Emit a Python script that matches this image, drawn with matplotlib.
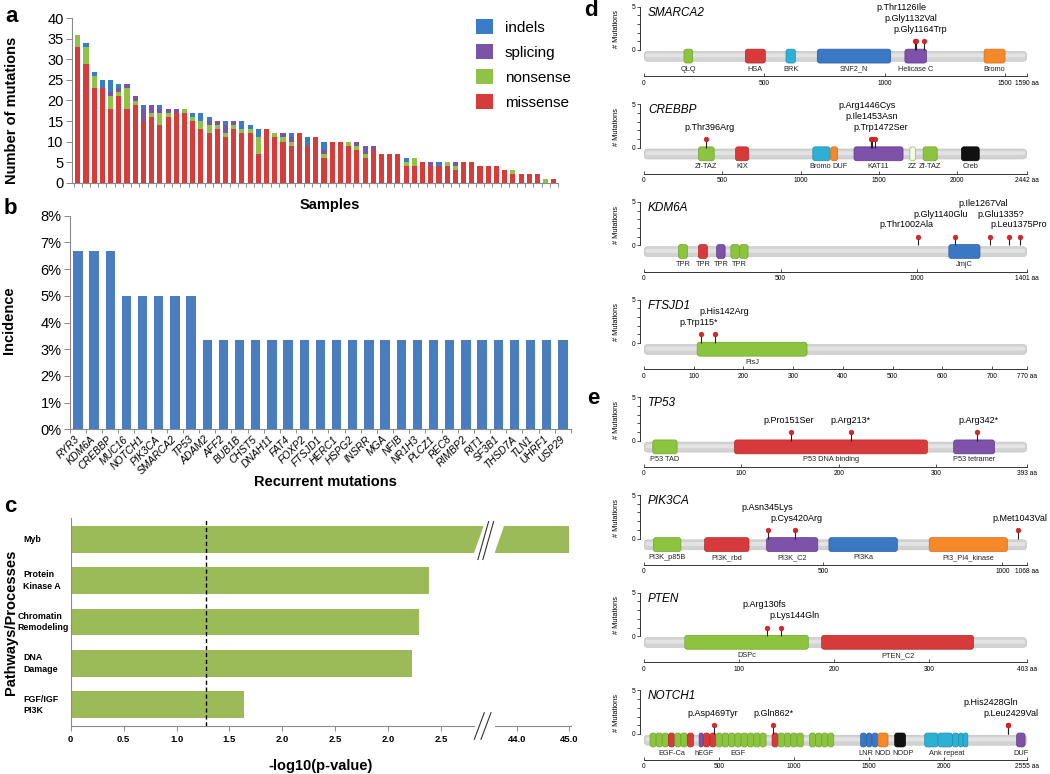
import numpy as np
import matplotlib
matplotlib.use('Agg')
import matplotlib.pyplot as plt
from matplotlib.patches import FancyBboxPatch, Patch, Polygon
from matplotlib.lines import Line2D
from matplotlib.ticker import PercentFormatter
from matplotlib.transforms import blended_transform_factory

plt.rcParams['font.family'] = ['Liberation Sans', 'DejaVu Sans']

# ======================= DATA =======================
# --- panel a: mutations per sample ---
sample_missense = [33, 29, 23, 23, 18, 21, 18, 19, 15, 16, 14, 16, 17, 17, 15, 13, 12, 13, 11, 13,
                   12, 12, 7, 13, 11, 10, 9, 12, 9, 11, 6, 10, 10, 9, 8, 6, 8, 7, 7, 7,
                   4, 4, 5, 4, 4, 4, 3, 5, 5, 4, 4, 4, 3, 2, 2, 2, 2, 0, 1]
sample_nonsense = [3, 4, 3, 0, 3, 1, 5, 1, 0, 1, 3, 1, 0, 1, 1, 2, 2, 1, 1, 1,
                   1, 1, 4, 0, 1, 1, 1, 0, 0, 0, 1, 0, 0, 1, 1, 1, 0, 0, 0, 0,
                   1, 2, 0, 0, 0, 1, 1, 0, 0, 0, 0, 0, 0, 1, 0, 0, 0, 1, 0]
sample_splicing = [0, 0, 0, 0, 1, 1, 1, 1, 3, 2, 1, 1, 1, 0, 0, 0, 1, 1, 2, 1,
                   0, 0, 0, 0, 0, 1, 1, 0, 0, 0, 1, 0, 0, 0, 1, 2, 1, 0, 0, 0,
                   0, 0, 0, 1, 0, 0, 1, 0, 0, 0, 0, 0, 0, 0, 0, 0, 0, 0, 0]
sample_indels = [0, 1, 1, 2, 3, 1, 0, 0, 1, 0, 1, 0, 0, 0, 1, 2, 1, 0, 1, 0,
                 2, 1, 2, 0, 0, 0, 1, 0, 2, 0, 2, 0, 0, 0, 0, 0, 0, 0, 0, 0,
                 1, 0, 0, 0, 1, 0, 0, 0, 0, 0, 0, 0, 0, 0, 0, 0, 0, 0, 0]
mutation_types = ['indels', 'splicing', 'nonsense', 'missense']

# --- panel b: recurrent mutations ---
recurrent_genes = ['RYR3', 'KDM6A', 'CREBBP', 'MUC16', 'NOTCH1', 'PIK3CA', 'SMARCA2', 'TP53',
                   'ADAM2', 'AFF2', 'BUB1B', 'CHST5', 'DNAH11', 'FAT4', 'FOXP2', 'FTSJD1',
                   'HERC1', 'HSPG2', 'INSRR', 'MGA', 'NFIB', 'NR1H3', 'PLCZ1', 'REC8',
                   'RIMBP2', 'RIT1', 'SF3B1', 'THSD7A', 'TLN1', 'UHRF1', 'USP29']
incidence_pct = [6.67, 6.67, 6.67, 5.0, 5.0, 5.0, 5.0, 5.0,
                 3.33, 3.33, 3.33, 3.33, 3.33, 3.33, 3.33, 3.33,
                 3.33, 3.33, 3.33, 3.33, 3.33, 3.33, 3.33, 3.33,
                 3.33, 3.33, 3.33, 3.33, 3.33, 3.33, 3.33]

# --- panel c: pathways ---
pathways = ['Myb', 'Protein\nKinase A', 'Chromatin\nRemodeling', 'DNA\nDamage', 'FGF/IGF\nPI3K']
pathway_neglogp = [45.0, 3.39, 3.29, 3.23, 1.64]
significance_line = 1.28
c_left_ticks = [0, 0.5, 1.0, 1.5, 2.0, 2.5, 3.0, 3.5]
c_left_ticklabels = ['0', '0.5', '1.0', '1.5', '2.0', '2.5', '2.0', '2.5']
c_right_ticks = [44.0, 45.0]
c_right_ticklabels = ['44.0', '45.0']

# --- panels d/e: protein domain maps: (start, end, colour, label group) ---
smarca2_domains = [(166, 202, 'green', 'QLQ'), (421, 504, 'red', 'HSA'), (590, 629, 'cyan', 'BRK'),
                   (720, 1025, 'blue', 'SNF2_N'), (1084, 1174, 'purple', 'Helicase C'),
                   (1413, 1500, 'orange', 'Bromo')]
smarca2_mutations = [(1126, 1, 'p.Thr1126Ile'), (1132, 1, 'p.Gly1132Val'), (1164, 1, 'p.Gly1164Trp')]

crebbp_domains = [(348, 448, 'green', 'Zf-TAZ#1'), (584, 668, 'red', 'KIX'), (1077, 1188, 'cyan', 'Bromo'),
                  (1192, 1235, 'orange', 'DUF'), (1340, 1653, 'purple', 'KAT11'), (1696, 1732, 'light', 'ZZ'),
                  (1781, 1871, 'green', 'Zf-TAZ#2'), (2026, 2139, 'black', 'Creb')]
crebbp_mutations = [(396, 1, 'p.Thr396Arg'), (1446, 1, 'p.Arg1446Cys'), (1453, 1, 'p.Ile1453Asn'),
                    (1472, 1, 'p.Trp1472Ser')]

kdm6a_domains = [(126, 159, 'green', 'TPR#1'), (199, 232, 'red', 'TPR#2'), (266, 297, 'purple', 'TPR#3'),
                 (318, 349, 'green', 'TPR#4'), (350, 381, 'green', 'TPR#4'), (1116, 1230, 'blue', 'JmjC')]
kdm6a_mutations = [(1002, 1, 'p.Thr1002Ala'), (1140, 1, 'p.Gly1140Glu'), (1267, 1, 'p.Ile1267Val'),
                   (1335, 1, 'p.Glu1335?'), (1375, 1, 'p.Leu1375Pro')]

ftsjd1_domains = [(107, 328, 'green', 'FtsJ')]
ftsjd1_mutations = [(115, 1, 'p.Trp115*'), (142, 1, 'p.His142Arg')]

tp53_domains = [(9, 34, 'green', 'P53 TAD'), (93, 291, 'red', 'P53 DNA binding'),
                (318, 360, 'purple', 'P53 tetramer')]
tp53_mutations = [(151, 1, 'p.Pro151Ser'), (213, 1, 'p.Arg213*'), (342, 1, 'p.Arg342*')]

pik3ca_domains = [(26, 103, 'green', 'PI3K_p85B'), (169, 293, 'red', 'PI3K_rbd'), (342, 485, 'purple', 'PI3K_C2'),
                  (516, 707, 'blue', 'PI3Ka'), (796, 1014, 'orange', 'PI3_PI4_kinase')]
pik3ca_mutations = [(345, 1, 'p.Asn345Lys'), (420, 1, 'p.Cys420Arg'), (1043, 1, 'p.Met1043Val')]

pten_domains = [(43, 173, 'green', 'DSPc'), (187, 347, 'red', 'PTEN_C2')]
pten_mutations = [(130, 1, 'p.Arg130fs'), (144, 1, 'p.Lys144Gln')]

notch1_domains = [(40, 81, 'green', 'EGF-Ca'), (81, 122, 'green', 'EGF-Ca'), (122, 163, 'green', 'EGF-Ca'),
                  (163, 204, 'red', 'EGF-Ca'), (206, 247, 'green', 'EGF-Ca'), (247, 288, 'green', 'EGF-Ca'),
                  (290, 330, 'red', 'EGF-Ca'),
                  (368, 395, 'purple', 'hEGF'), (397, 438, 'red', 'hEGF'),
                  (440, 480, 'red', 'EGF'), (481, 522, 'green', 'EGF'), (523, 564, 'green', 'EGF'),
                  (565, 606, 'green', 'EGF'), (607, 648, 'green', 'EGF'), (649, 690, 'green', 'EGF'),
                  (691, 732, 'green', 'EGF'), (733, 774, 'green', 'EGF'), (775, 815, 'green', 'EGF'),
                  (855, 895, 'red', ''), (896, 937, 'green', ''), (938, 979, 'green', ''),
                  (980, 1021, 'green', ''), (1022, 1063, 'green', ''),
                  (1105, 1145, 'green', ''), (1146, 1186, 'green', ''), (1187, 1227, 'green', ''),
                  (1228, 1267, 'green', ''),
                  (1446, 1484, 'blue', 'LNR'), (1485, 1522, 'blue', 'LNR'), (1523, 1562, 'blue', 'LNR'),
                  (1562, 1629, 'orange', 'NOD'), (1674, 1745, 'black', 'NODP'),
                  (1874, 1963, 'cyan', 'Ank repeat'), (1964, 2060, 'cyan', 'Ank repeat'),
                  (2061, 2100, 'cyan', 'Ank repeat'), (2101, 2130, 'cyan', 'Ank repeat'),
                  (2131, 2162, 'cyan', 'Ank repeat'),
                  (2488, 2544, 'purple', 'DUF')]
notch1_mutations = [(469, 1, 'p.Asp469Tyr'), (862, 1, 'p.Gln862*'), (2428, 1, 'p.His2428Gln'),
                    (2429, 1, 'p.Leu2429Val')]

protein_names = ['SMARCA2', 'CREBBP', 'KDM6A', 'FTSJD1', 'TP53', 'PIK3CA', 'PTEN', 'NOTCH1']
protein_lengths = [1590, 2442, 1401, 770, 393, 1068, 403, 2555]
protein_ticks = [[0, 500, 1000, 1500], [0, 500, 1000, 1500, 2000], [0, 500, 1000],
                 [0, 100, 200, 300, 400, 500, 600, 700], [0, 100, 200, 300], [0, 500, 1000],
                 [0, 100, 200, 300], [0, 500, 1000, 1500, 2000]]
protein_domains = [smarca2_domains, crebbp_domains, kdm6a_domains, ftsjd1_domains,
                   tp53_domains, pik3ca_domains, pten_domains, notch1_domains]
protein_mutations = [smarca2_mutations, crebbp_mutations, kdm6a_mutations, ftsjd1_mutations,
                     tp53_mutations, pik3ca_mutations, pten_mutations, notch1_mutations]

# ======================= LAYOUT / STYLE =======================
label_rows = [[2, 1, 0], [0, 2, 1, 0], [0, 1, 2, 1, 0], [0, 1], [0, 0, 0], [1, 0, 0], [1, 0], [0, 0, 1, 0]]
label_nudges = [[-14, -6, -4], [3, -4, 0, 6], [-11, -15, -7, -8, -1], [-3, 10], [-2, -1, 1],
                [0, 2, 2], [-3, 14], [-2, 0, -17, 3]]
domain_label_nudges = {('CREBBP', 'Bromo'): -1, ('CREBBP', 'DUF'): 5.5,
                       ('NOTCH1', 'LNR'): -3, ('NOTCH1', 'NODP'): 3}

W, H = 1050, 774
fig = plt.figure(figsize=(W / 100, H / 100), dpi=100)
fig.patch.set_facecolor('white')


def px_axes(l, t, r, b):
    return fig.add_axes([l / W, 1 - b / H, (r - l) / W, (b - t) / H])


def ftxt(x, y, s, **kw):
    return fig.text(x / W, 1 - y / H, s, **kw)


def fpts(pts):
    return [(x / W, 1 - y / H) for x, y in pts]


GRAY = '#8a8a8a'
COL_A = {'missense': '#d63c3a', 'nonsense': '#8fc246', 'splicing': '#7c54a6', 'indels': '#3b7cc9'}

# ----------------------- panel a -----------------------
axa = px_axes(72, 18.3, 558, 182.7)
xa = np.arange(len(sample_missense))
base = np.zeros(len(xa))
for name, vals in [('missense', sample_missense), ('nonsense', sample_nonsense),
                   ('splicing', sample_splicing), ('indels', sample_indels)]:
    v = np.asarray(vals, dtype=float)
    axa.bar(xa, v, 0.62, bottom=base, color=COL_A[name], linewidth=0)
    base += v
axa.set_xlim(-0.7, len(xa) - 0.5)
axa.set_ylim(0, 40)
axa.set_yticks(np.arange(0, 41, 5))
axa.set_xticks(np.arange(-0.5, len(xa), 1.0))
axa.set_xticklabels([])
for s in ['top', 'right']:
    axa.spines[s].set_visible(False)
for s in ['left', 'bottom']:
    axa.spines[s].set_color(GRAY)
axa.tick_params(axis='x', length=3, width=0.7, color=GRAY)
axa.tick_params(axis='y', length=4, width=0.7, color=GRAY, labelsize=10.5, pad=2)
handles = [Patch(facecolor=COL_A[n], edgecolor='none') for n in mutation_types]
axa.legend(handles, mutation_types, loc='upper left', bbox_to_anchor=(476 / W, 1 - 19 / H),
           bbox_transform=fig.transFigure, frameon=False, fontsize=11, handlelength=1.1,
           handleheight=1.1, handletextpad=0.8, labelspacing=0.62, borderpad=0, borderaxespad=0)
ftxt(12, 110, 'Number of mutations', rotation=90, ha='center', va='center', fontsize=10.5,
     fontweight='bold')
ftxt(330, 205, 'Samples', ha='center', va='center', fontsize=10.5, fontweight='bold')

# ----------------------- panel b -----------------------
axb = px_axes(69.8, 215.7, 571, 429.3)
xb = np.arange(len(recurrent_genes))
axb.bar(xb, np.asarray(incidence_pct) / 100.0, 0.575, color='#4a7dbf', linewidth=0)
axb.set_xlim(-0.5, len(xb) - 0.5)
axb.set_ylim(0, 0.08)
axb.set_yticks(np.arange(0, 0.081, 0.01))
axb.yaxis.set_major_formatter(PercentFormatter(1.0, decimals=0))
axb.set_xticks(xb)
axb.set_xticklabels(recurrent_genes, rotation=45, ha='right', va='center', rotation_mode='anchor',
                    fontstyle='italic', fontsize=7.5)
axb.set_xticks(np.arange(-0.5, len(xb), 1.0), minor=True)
for s in ['top', 'right']:
    axb.spines[s].set_visible(False)
for s in ['left', 'bottom']:
    axb.spines[s].set_color(GRAY)
axb.tick_params(axis='x', which='major', length=0, pad=6)
axb.tick_params(axis='x', which='minor', length=3, width=0.7, color=GRAY)
axb.tick_params(axis='y', length=4, width=0.7, color=GRAY, labelsize=10.5, pad=2)
ftxt(9, 320, 'Incidence', rotation=90, ha='center', va='center', fontsize=10.5, fontweight='bold')
ftxt(325, 482, 'Recurrent mutations', ha='center', va='center', fontsize=10.5, fontweight='bold')

# ----------------------- panel c -----------------------
GREEN_C = '#9bbb59'
axcl = px_axes(70.7, 518.3, 484, 725.7)
axcr = px_axes(494.6, 518.3, 571, 725.7)
yc = np.arange(len(pathways))
for ax in (axcl, axcr):
    ax.barh(yc, pathway_neglogp, height=0.65, color=GREEN_C, linewidth=0)
    ax.set_ylim(len(pathways) - 0.5, -0.5)
    ax.set_yticks([])
    for s in ['top', 'right']:
        ax.spines[s].set_visible(False)
    ax.spines['bottom'].set_color(GRAY)
    ax.tick_params(axis='x', length=3.5, width=0.7, color=GRAY, labelsize=6.8, pad=3)
axcl.set_xlim(0, (484 - 70.7) / 105.8)
axcl.spines['left'].set_color(GRAY)
axcl.spines['bottom'].set_bounds(0, (474 - 70.7) / 105.8)
axcl.set_xticks(c_left_ticks)
axcl.set_xticklabels(c_left_ticklabels, fontweight='bold')
axcr.set_xlim(44 - (516.8 - 494.6) / 52.2, 44 + (571 - 516.8) / 52.2)
axcr.spines['left'].set_visible(False)
axcr.set_xticks(c_right_ticks)
axcr.set_xticklabels(c_right_ticklabels, fontweight='bold')
axcl.axvline(significance_line, color='black', lw=1.0, ls=(0, (3, 2)), zorder=3)

fig.canvas.draw()
renderer = fig.canvas.get_renderer()
lab_tr = blended_transform_factory(fig.transFigure, axcl.transData)
for yi, lab in zip(yc, pathways):
    t = axcl.text(23 / W, yi, lab, transform=lab_tr, ha='left', va='center', fontsize=6.4,
                  fontweight='bold', linespacing=1.3)
    bb = t.get_window_extent(renderer)
    if bb.x1 > 68.5:
        t.set_x((23 - (bb.x1 - 68.5)) / W)

# broken-axis marks
disp = axcl.transData.transform([(0, -0.325), (0, 0.325)])
bar_top = H - disp[0][1]
bar_bot = H - disp[1][1]
fig.add_artist(Polygon(fpts([(474, bar_bot + 0.5), (486, bar_bot + 0.5), (486, bar_top - 0.5), (484, bar_top - 0.5)]),
                       closed=True, facecolor='white', edgecolor='none', transform=fig.transFigure, zorder=5))
fig.add_artist(Polygon(fpts([(493, bar_bot + 0.5), (494.6, bar_bot + 0.5), (504.3, bar_top - 0.5), (493, bar_top - 0.5)]),
                       closed=True, facecolor='white', edgecolor='none', transform=fig.transFigure, zorder=5))
for dx in (0, 5):
    (x1, y1), (x2, y2) = fpts([(477.9 + dx, bar_bot + 7), (488.6 + dx, bar_top - 4)])
    fig.add_artist(Line2D([x1, x2], [y1, y2], color='#333333', lw=0.8, transform=fig.transFigure, zorder=6))
for x_lo, x_hi in ((474.3, 484.3), (481, 491)):
    (x1, y1), (x2, y2) = fpts([(x_lo, 739.3), (x_hi, 712.7)])
    fig.add_artist(Line2D([x1, x2], [y1, y2], color='#333333', lw=0.8, transform=fig.transFigure, zorder=6))

ftxt(11, 622, 'Pathways/Processes', rotation=90, ha='center', va='center', fontsize=10.5,
     fontweight='bold')
ftxt(321, 766, '-log10(p-value)', ha='center', va='center', fontsize=10.5, fontweight='bold')

# ----------------------- panels d / e -----------------------
DOM_FACE = {'green': '#8cc43f', 'red': '#d63a3a', 'blue': '#3a78c4', 'purple': '#7d52a8',
            'orange': '#f5892a', 'cyan': '#2db0d4', 'black': '#111111', 'light': '#f2f9e6'}
DOM_EDGE = {'green': '#6fa52a', 'red': '#b02a2a', 'blue': '#2a5fa0', 'purple': '#5f3a88',
            'orange': '#d56d15', 'cyan': '#1a90b0', 'black': '#000000', 'light': '#8cc43f'}
U = 8.7
X0_PX, X1_PX = 644, 1026.7
YMIN, YMAX = -3.6, 5.6
ROW_Y = [2.35, 3.6, 4.85]

for i, name in enumerate(protein_names):
    L = protein_lengths[i]
    z = 50 + i * 97.7
    ax = px_axes(X0_PX, z - YMAX * U, X1_PX, z - YMIN * U)
    ax.set_xlim(0, L)
    ax.set_ylim(YMIN, YMAX)
    ax.patch.set_alpha(0)
    pxx = (X1_PX - X0_PX) / L
    asp = pxx / U

    def rbox(x0, y0, w, h, face, edge, lw, rad_px, z_):
        r = min(rad_px / pxx, w * 0.45, h / asp * 0.45)
        p = FancyBboxPatch((x0, y0), w, h, boxstyle=f"round,pad=0,rounding_size={r}",
                           mutation_aspect=asp, facecolor=face, edgecolor=edge, linewidth=lw, zorder=z_)
        ax.add_patch(p)

    # backbone with a light highlight band
    rbox(0, -1.3, L, 1.15, '#d2d2d2', '#c0c0c0', 0.4, 4, 1)
    rbox(0.004 * L, -0.85, L * 0.992, 0.45, '#e3e3e3', 'none', 0, 2, 1.1)
    groups = {}
    for (s, e, col, grp) in protein_domains[i]:
        rbox(s, -1.5, e - s, 1.6, DOM_FACE[col], DOM_EDGE[col], 0.5, 2.5, 2)
        if grp:
            lo, hi = groups.get(grp, (s, e))
            groups[grp] = (min(lo, s), max(hi, e))
    for grp, (lo, hi) in groups.items():
        nud = domain_label_nudges.get((name, grp.split('#')[0]), 0)
        ax.annotate(grp.split('#')[0], xy=((lo + hi) / 2, -2.2), xytext=(nud * 0.72, 0),
                    textcoords='offset points', ha='center', va='center', fontsize=5.3, color='#222222')
    for j, (pos, cnt, lab) in enumerate(protein_mutations[i]):
        ax.vlines(pos, 0, cnt, color='#222222', lw=0.8, zorder=3)
        ax.plot([pos], [cnt], 'o', ms=3.4, mfc='#d9262b', mec='#b51d22', mew=0.4, zorder=4)
        ax.annotate(lab, xy=(pos, ROW_Y[label_rows[i][j]]), xytext=(label_nudges[i][j] * 0.72, 0),
                    textcoords='offset points', ha='center', va='center', fontsize=6.5)
    ax.text(0.0105, 4.3, name, transform=blended_transform_factory(ax.transAxes, ax.transData),
            fontstyle='italic', fontsize=8.5, ha='left', va='center')
    ax.spines['top'].set_visible(False)
    ax.spines['right'].set_visible(False)
    ax.spines['left'].set_bounds(0, 5)
    ax.spines['left'].set_position(('outward', 2.9))
    ax.spines['bottom'].set_position(('data', -3.0))
    ax.spines['bottom'].set_bounds(0, L)
    for s in ['left', 'bottom']:
        ax.spines[s].set_color('#333333')
        ax.spines[s].set_linewidth(0.7)
    ax.set_yticks([0, 5])
    ax.set_yticks([1, 2, 3, 4], minor=True)
    ax.tick_params(axis='y', which='both', length=2.2, width=0.6, labelsize=4.8, pad=1, color='#333333')
    ax.set_xticks(protein_ticks[i] + [L])
    ax.set_xticklabels([str(t) for t in protein_ticks[i]] + [f'{L} aa'])
    ax.tick_params(axis='x', direction='in', length=2.2, width=0.6, labelsize=4.8, pad=2.5, color='#333333')
    ax.set_ylabel('# Mutations', fontsize=5.3)
    ax.yaxis.set_label_coords((620 - X0_PX) / (X1_PX - X0_PX), (2.4 - YMIN) / (YMAX - YMIN))

for letter, (x, y) in zip('abcde', [(12, 16), (10, 208), (10, 506), (591, 10), (593, 398)]):
    ftxt(x, y, letter, ha='center', va='center', fontsize=16, fontweight='bold')

fig.savefig('out.png', dpi=100, facecolor='white')
